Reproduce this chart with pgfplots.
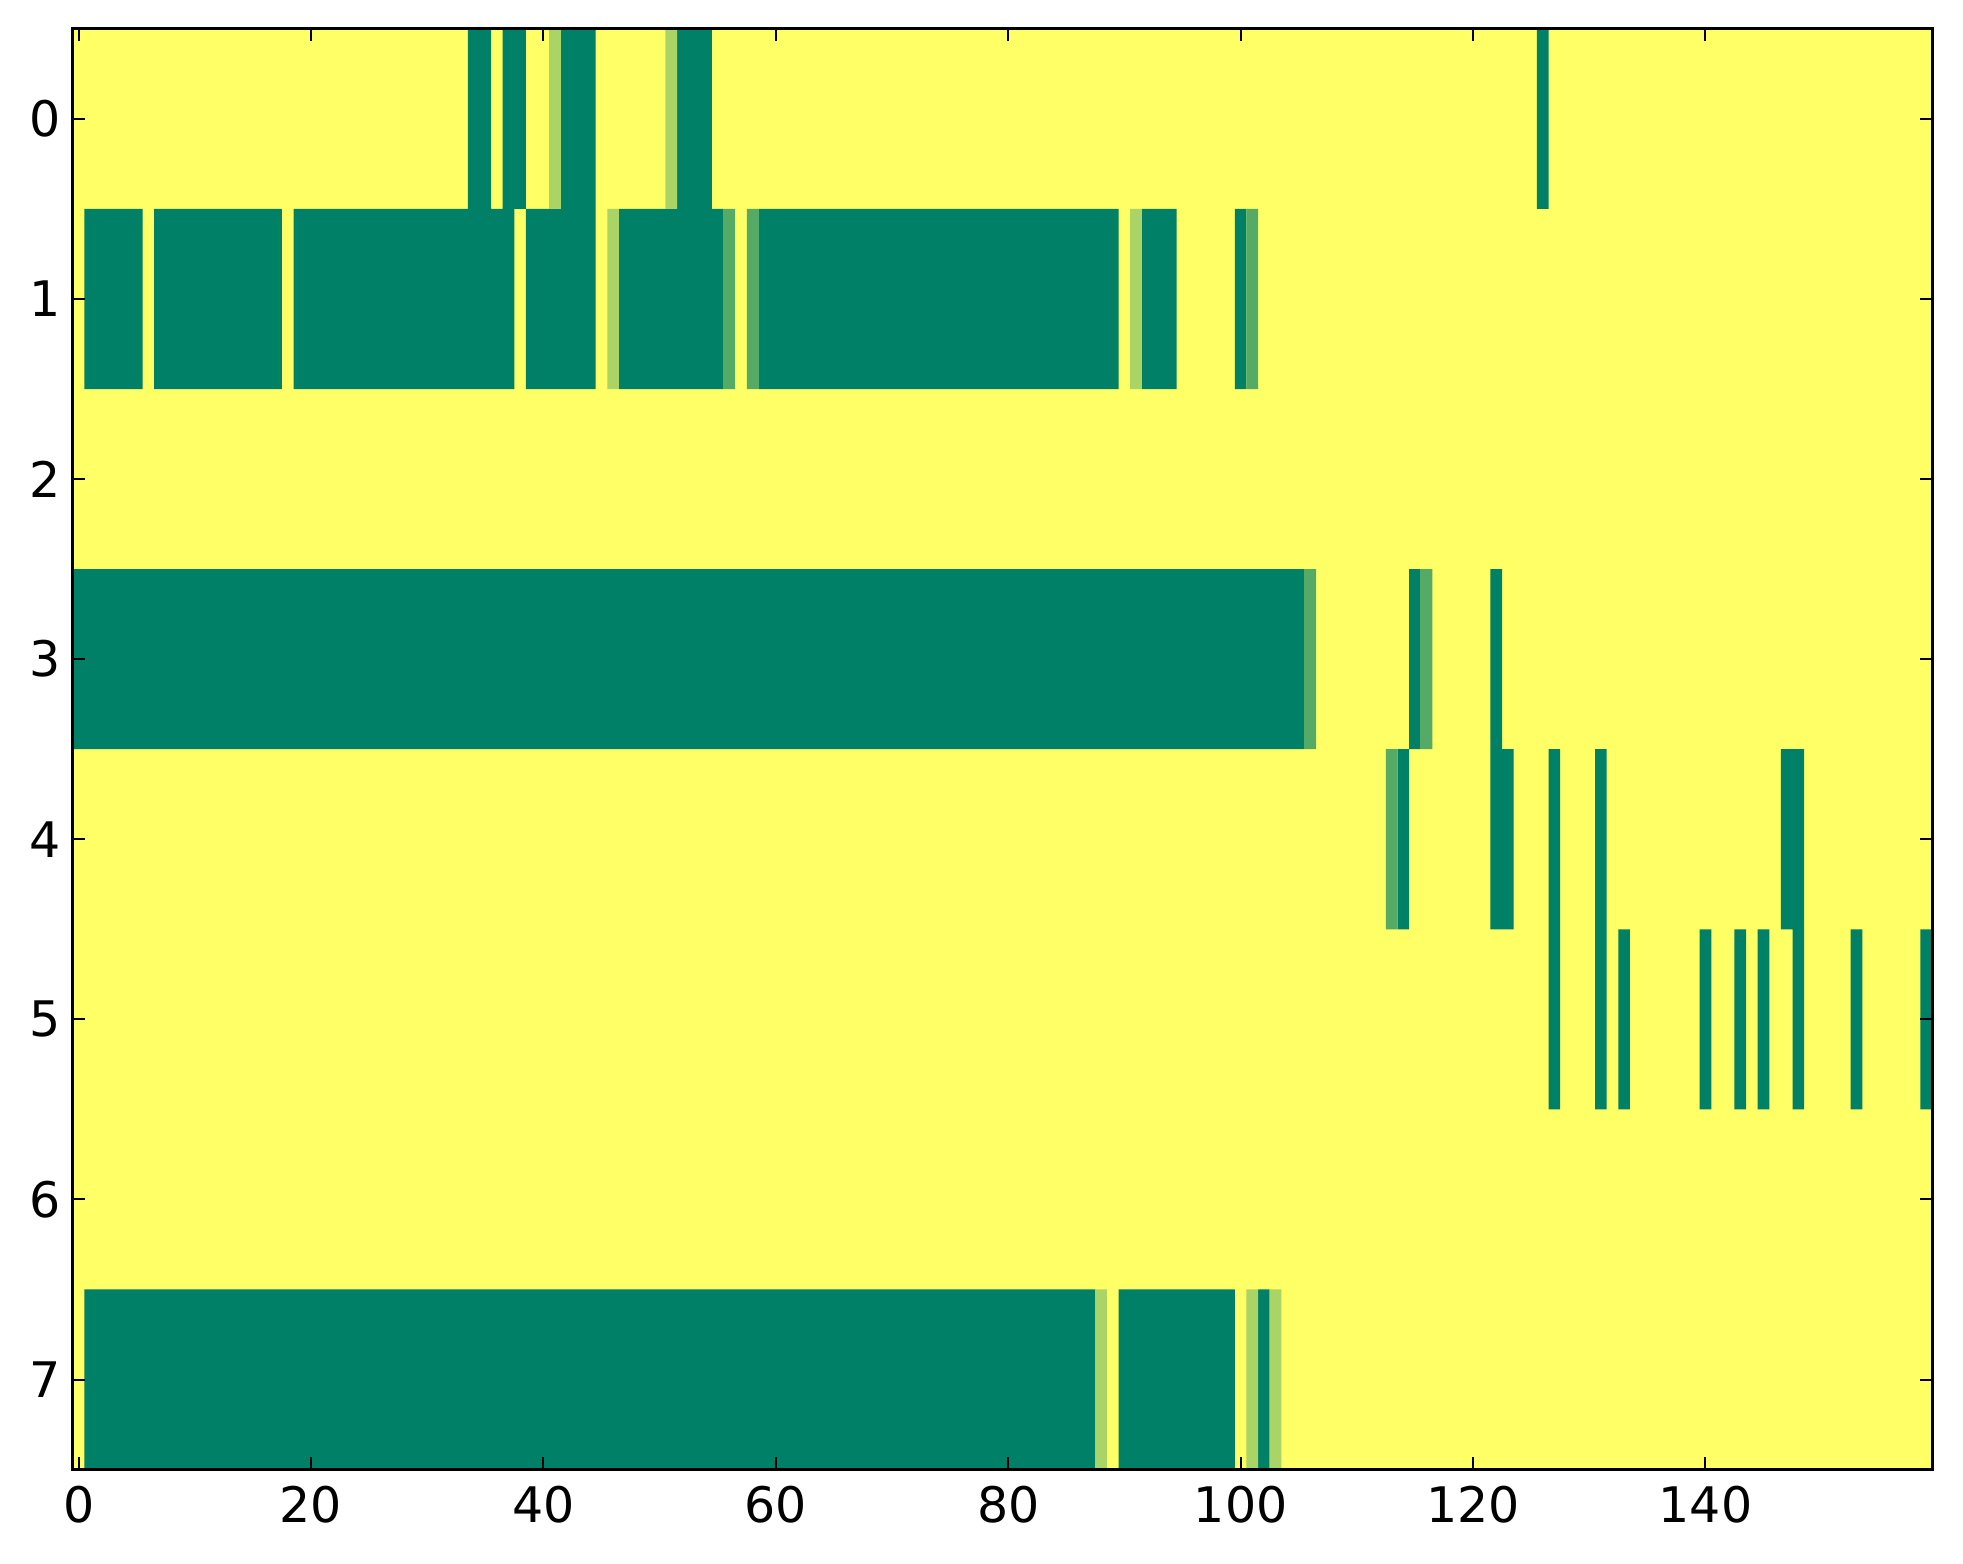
\documentclass[border=0pt]{standalone}
\usepackage{fontspec}
\setmainfont{DejaVu Sans}
\usepackage{pgfplots}
\pgfplotsset{compat=1.18}
\definecolor{cyel}{rgb}{1,1,0.4}
\definecolor{cdark}{rgb}{0,0.5,0.4}
\definecolor{cmed}{rgb}{0.333,0.667,0.4}
\definecolor{clight}{rgb}{0.667,0.833,0.4}
\begin{document}
\begin{tikzpicture}
\useasboundingbox (-14.56pt,-18.8pt) rectangle (378.1pt,293.96pt);
\begin{axis}[
  at={(0,0)}, anchor=south west,
  width=371.9pt, height=288.2pt, scale only axis,
  xmin=-0.5, xmax=159.5, ymin=-0.5, ymax=7.5, y dir=reverse,
  xtick={0,20,...,140}, ytick={0,1,...,7},
  tick align=inside, major tick length=2.5pt,
  axis line style={line width=0.6pt},
  every tick/.style={black, line width=0.4pt},
  axis on top,
  ticklabel style={font=\fontsize{9.8}{12}\selectfont},
  yticklabel style={xshift=1.1pt},
  xticklabel style={yshift=0.3pt},
  /pgf/number format/assume math mode=true,
  unbounded coords=jump,
]
% background: value 1 everywhere
\addplot[fill=cyel, draw=none] coordinates {(-0.5,-0.5) (159.5,-0.5) (159.5,7.5) (-0.5,7.5)};
% value 0 (dark)
\addplot[fill=cdark, draw=none] coordinates {
(33.5,-0.5)(35.5,-0.5)(35.5,0.5)(33.5,0.5) (nan,nan)
(36.5,-0.5)(38.5,-0.5)(38.5,0.5)(36.5,0.5) (nan,nan)
(41.5,-0.5)(44.5,-0.5)(44.5,0.5)(41.5,0.5) (nan,nan)
(51.5,-0.5)(54.5,-0.5)(54.5,0.5)(51.5,0.5) (nan,nan)
(125.5,-0.5)(126.5,-0.5)(126.5,0.5)(125.5,0.5) (nan,nan)
(0.5,0.5)(5.5,0.5)(5.5,1.5)(0.5,1.5) (nan,nan)
(6.5,0.5)(17.5,0.5)(17.5,1.5)(6.5,1.5) (nan,nan)
(18.5,0.5)(37.5,0.5)(37.5,1.5)(18.5,1.5) (nan,nan)
(38.5,0.5)(44.5,0.5)(44.5,1.5)(38.5,1.5) (nan,nan)
(46.5,0.5)(55.5,0.5)(55.5,1.5)(46.5,1.5) (nan,nan)
(58.5,0.5)(89.5,0.5)(89.5,1.5)(58.5,1.5) (nan,nan)
(91.5,0.5)(94.5,0.5)(94.5,1.5)(91.5,1.5) (nan,nan)
(99.5,0.5)(100.5,0.5)(100.5,1.5)(99.5,1.5) (nan,nan)
(-0.5,2.5)(105.5,2.5)(105.5,3.5)(-0.5,3.5) (nan,nan)
(114.5,2.5)(115.5,2.5)(115.5,3.5)(114.5,3.5) (nan,nan)
(121.5,2.5)(122.5,2.5)(122.5,3.5)(121.5,3.5) (nan,nan)
(113.5,3.5)(114.5,3.5)(114.5,4.5)(113.5,4.5) (nan,nan)
(121.5,3.5)(123.5,3.5)(123.5,4.5)(121.5,4.5) (nan,nan)
(126.5,3.5)(127.5,3.5)(127.5,4.5)(126.5,4.5) (nan,nan)
(130.5,3.5)(131.5,3.5)(131.5,4.5)(130.5,4.5) (nan,nan)
(146.5,3.5)(148.5,3.5)(148.5,4.5)(146.5,4.5) (nan,nan)
(126.5,4.5)(127.5,4.5)(127.5,5.5)(126.5,5.5) (nan,nan)
(130.5,4.5)(131.5,4.5)(131.5,5.5)(130.5,5.5) (nan,nan)
(132.5,4.5)(133.5,4.5)(133.5,5.5)(132.5,5.5) (nan,nan)
(139.5,4.5)(140.5,4.5)(140.5,5.5)(139.5,5.5) (nan,nan)
(142.5,4.5)(143.5,4.5)(143.5,5.5)(142.5,5.5) (nan,nan)
(144.5,4.5)(145.5,4.5)(145.5,5.5)(144.5,5.5) (nan,nan)
(147.5,4.5)(148.5,4.5)(148.5,5.5)(147.5,5.5) (nan,nan)
(152.5,4.5)(153.5,4.5)(153.5,5.5)(152.5,5.5) (nan,nan)
(158.5,4.5)(159.5,4.5)(159.5,5.5)(158.5,5.5) (nan,nan)
(0.5,6.5)(87.5,6.5)(87.5,7.5)(0.5,7.5) (nan,nan)
(89.5,6.5)(99.5,6.5)(99.5,7.5)(89.5,7.5) (nan,nan)
(101.5,6.5)(102.5,6.5)(102.5,7.5)(101.5,7.5)
};
% value 2/3 (light)
\addplot[fill=clight, draw=none] coordinates {
(40.5,-0.5)(41.5,-0.5)(41.5,0.5)(40.5,0.5) (nan,nan)
(50.5,-0.5)(51.5,-0.5)(51.5,0.5)(50.5,0.5) (nan,nan)
(45.5,0.5)(46.5,0.5)(46.5,1.5)(45.5,1.5) (nan,nan)
(90.5,0.5)(91.5,0.5)(91.5,1.5)(90.5,1.5) (nan,nan)
(87.5,6.5)(88.5,6.5)(88.5,7.5)(87.5,7.5) (nan,nan)
(100.5,6.5)(101.5,6.5)(101.5,7.5)(100.5,7.5) (nan,nan)
(102.5,6.5)(103.5,6.5)(103.5,7.5)(102.5,7.5)
};
% value 1/3 (medium)
\addplot[fill=cmed, draw=none] coordinates {
(55.5,0.5)(56.5,0.5)(56.5,1.5)(55.5,1.5) (nan,nan)
(57.5,0.5)(58.5,0.5)(58.5,1.5)(57.5,1.5) (nan,nan)
(100.5,0.5)(101.5,0.5)(101.5,1.5)(100.5,1.5) (nan,nan)
(105.5,2.5)(106.5,2.5)(106.5,3.5)(105.5,3.5) (nan,nan)
(115.5,2.5)(116.5,2.5)(116.5,3.5)(115.5,3.5) (nan,nan)
(112.5,3.5)(113.5,3.5)(113.5,4.5)(112.5,4.5)
};
\end{axis}
\end{tikzpicture}
\end{document}
